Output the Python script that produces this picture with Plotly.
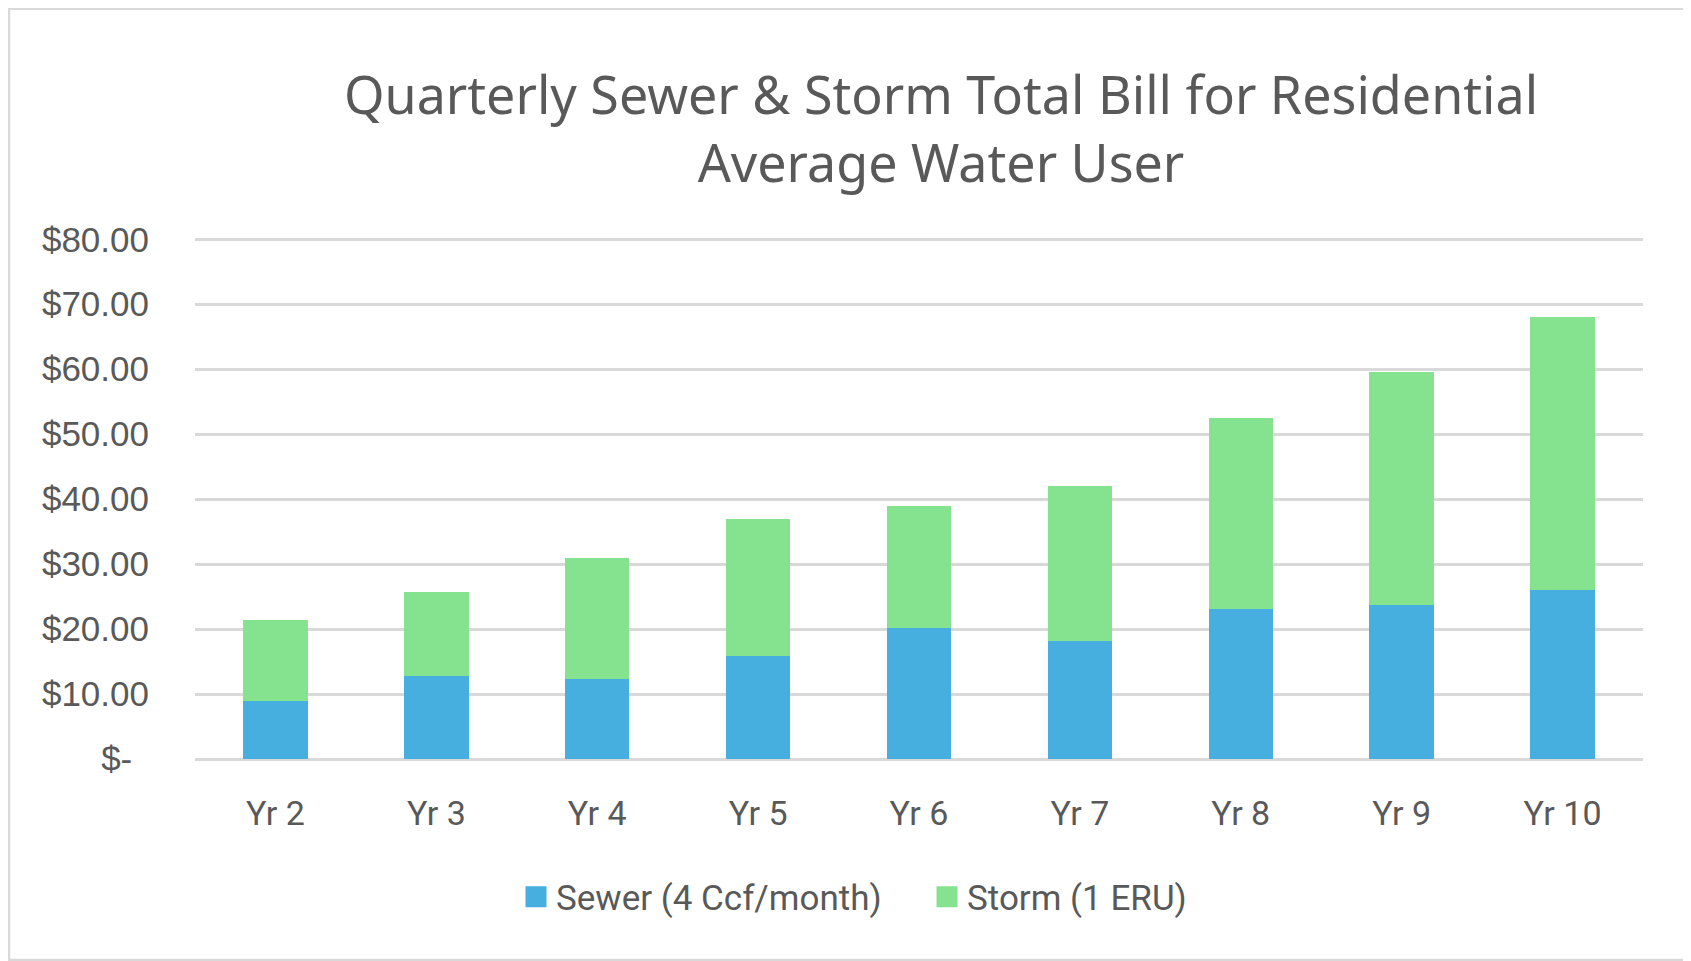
import plotly.graph_objects as go

categories = ["Yr 2", "Yr 3", "Yr 4", "Yr 5", "Yr 6", "Yr 7", "Yr 8", "Yr 9", "Yr 10"]
sewer = [9.0, 12.7, 12.3, 15.9, 20.1, 18.2, 23.1, 23.7, 26.0]
storm = [12.4, 13.0, 18.6, 21.1, 18.9, 23.8, 29.4, 35.9, 42.0]
series_names = ["Sewer (4 Ccf/month)", "Storm (1 ERU)"]
series_colors = ["#46AFDF", "#85E28F"]
y_tick_vals = [0, 10, 20, 30, 40, 50, 60, 70, 80]
y_tick_text = ["$-\u00a0\u2009", "$10.00", "$20.00", "$30.00", "$40.00",
               "$50.00", "$60.00", "$70.00", "$80.00"]
title_text = "Quarterly Sewer & Storm Total Bill for Residential<br>Average Water User"

# page body has an 8px margin, so the figure is 8px smaller than the window
W, H = 1683, 953
Y_MAX = 80.5
L, R, B = 187, 48, 202
T = 231.5 - (Y_MAX - 80) * (519.5 / 80)
pw = W - L - R
ph = H - T - B

GRAY = "#595959"
GRID = "#D9D9D9"

fig = go.Figure()
for vals, name, col in zip([sewer, storm], series_names, series_colors):
    fig.add_trace(go.Bar(x=categories, y=vals, name=name, showlegend=False,
                         marker=dict(color=col, line=dict(width=0))))
# legend entries with larger square swatches
for name, col in zip(series_names, series_colors):
    fig.add_trace(go.Scatter(x=[None], y=[None], mode="markers", name=name,
                             marker=dict(symbol="square", size=16, color=col,
                                         line=dict(color=col, width=5)),
                             hoverinfo="skip"))


def px_x(p):
    return (p - L) / pw


def px_y(p):
    return (H - B - p) / ph


fig.update_layout(
    width=W, height=H,
    barmode="stack", bargap=0.6,
    paper_bgcolor="white", plot_bgcolor="white",
    margin=dict(l=L, r=R, t=T, b=B, autoexpand=False),
    title=dict(text=title_text, x=933 / W, xanchor="center",
               y=1 - 106 / H, yanchor="top", yref="container",
               font=dict(family="Noto Sans", size=52, color=GRAY)),
    xaxis=dict(showgrid=False, zeroline=False, showline=False,
               ticks="outside", ticklen=24, tickcolor="rgba(0,0,0,0)",
               tickfont=dict(family="Roboto", size=34, color=GRAY)),
    yaxis=dict(range=[0, Y_MAX], tickvals=y_tick_vals, ticktext=y_tick_text,
               showgrid=True, gridcolor=GRID, gridwidth=2.5,
               zeroline=True, zerolinecolor=GRID, zerolinewidth=2.5,
               showline=False, ticks="outside", ticklen=38,
               tickcolor="rgba(0,0,0,0)",
               tickfont=dict(family="Liberation Sans", size=35, color=GRAY)),
    legend=dict(orientation="h", x=px_x(508), xanchor="left",
                y=px_y(889), yanchor="middle",
                font=dict(family="Roboto", size=35, color=GRAY),
                traceorder="normal", entrywidth=366, entrywidthmode="pixels"),
    shapes=[dict(type="rect", xref="paper", yref="paper",
                 x0=px_x(1), x1=px_x(1682), y0=px_y(952), y1=px_y(1),
                 line=dict(color="#D9D9D9", width=2.5), fillcolor="rgba(0,0,0,0)",
                 layer="below")],
)

fig.write_html("out.html")
